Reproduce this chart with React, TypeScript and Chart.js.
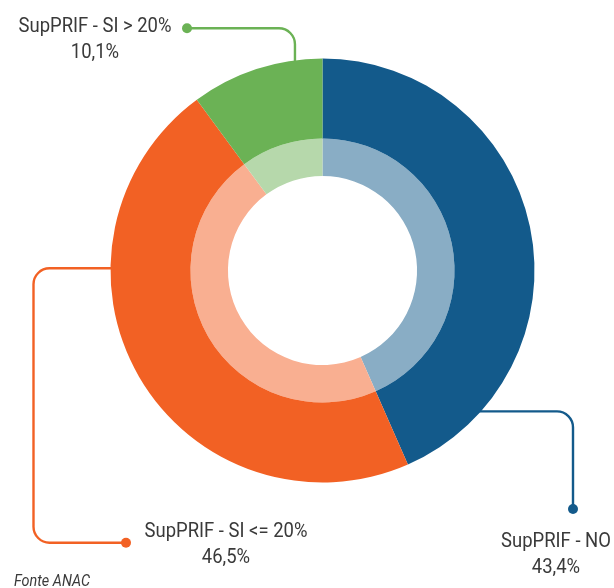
import React, { useEffect, useRef } from "react";
import { Chart, registerables } from "chart.js";

Chart.register(...registerables);

const categories = ["SupPRIF - NO", "SupPRIF - SI <= 20%", "SupPRIF - SI > 20%"];
const values = [43.4, 46.5, 10.1];
const valueLabels = ["43,4%", "46,5%", "10,1%"];
const solidColors = ["#135a8b", "#f26124", "#6bb255"];
const lightColors = ["#89adc5", "#f9af91", "#b6d8ab"];
const sourceText = "Fonte ANAC";

const FONT = 'Roboto, "Noto Sans", sans-serif';
const TEXT_COLOR = "#3a3a3a";
const CONDENSE = 0.9;

// Leader-line layout (annotation geometry, not data)
type Leader = {
  angle: number; // attach angle on outer edge, degrees clockwise from 12 o'clock
  path: Array<["h" | "v", number]>;
  textX: number;
  textY: number;
};
const leaders: Leader[] = [
  { angle: 131.9, path: [["h", 573], ["v", 509]], textX: 556, textY: 547 },
  { angle: 270.6, path: [["h", 33.5], ["v", 542.7], ["h", 126]], textX: 226, textY: 537 },
  { angle: 352.5, path: [["v", 28.3], ["h", 187]], textX: 95, textY: 32 },
];

function condensedText(ctx: CanvasRenderingContext2D, text: string, x: number, y: number, align: CanvasTextAlign) {
  ctx.save();
  ctx.translate(x, y);
  ctx.scale(CONDENSE, 1);
  ctx.textAlign = align;
  ctx.fillText(text, 0, 0);
  ctx.restore();
}

const leaderPlugin = {
  id: "leaderLabels",
  afterDraw(chart: any) {
    const meta = chart.getDatasetMeta(0);
    if (!meta || !meta.data.length) return;
    const arc0 = meta.data[0];
    const cx = arc0.x;
    const cy = arc0.y;
    const R = arc0.outerRadius;
    const ctx = chart.ctx as CanvasRenderingContext2D;
    ctx.save();
    leaders.forEach((l, i) => {
      const a = (l.angle * Math.PI) / 180;
      const sx = cx + (R - 1) * Math.sin(a);
      const sy = cy - (R - 1) * Math.cos(a);
      const pts: Array<[number, number]> = [[sx, sy]];
      let px = sx, py = sy;
      l.path.forEach(([dir, v]) => {
        if (dir === "h") px = v; else py = v;
        pts.push([px, py]);
      });
      ctx.strokeStyle = solidColors[i];
      ctx.lineWidth = 2.4;
      ctx.lineJoin = "round";
      ctx.beginPath();
      ctx.moveTo(pts[0][0], pts[0][1]);
      for (let k = 1; k < pts.length - 1; k++) {
        ctx.arcTo(pts[k][0], pts[k][1], pts[k + 1][0], pts[k + 1][1], 16);
      }
      const last = pts[pts.length - 1];
      ctx.lineTo(last[0], last[1]);
      ctx.stroke();
      ctx.fillStyle = solidColors[i];
      ctx.beginPath();
      ctx.arc(last[0], last[1], 5, 0, Math.PI * 2);
      ctx.fill();

      ctx.fillStyle = TEXT_COLOR;
      ctx.font = `20.5px ${FONT}`;
      ctx.textBaseline = "alphabetic";
      condensedText(ctx, categories[i], l.textX, l.textY, "center");
      condensedText(ctx, valueLabels[i], l.textX, l.textY + 25.5, "center");
    });
    ctx.fillStyle = TEXT_COLOR;
    ctx.font = `italic 16px ${FONT}`;
    ctx.textBaseline = "alphabetic";
    condensedText(ctx, sourceText, 14, 586, "left");
    ctx.restore();
  },
};

export default function App() {
  const ref = useRef<HTMLCanvasElement | null>(null);
  useEffect(() => {
    if (!ref.current) return;
    const chart = new Chart(ref.current, {
      type: "doughnut",
      data: {
        labels: categories,
        datasets: [
          {
            data: values,
            backgroundColor: solidColors,
            borderWidth: 0,
            weight: 80,
          },
          {
            data: values,
            backgroundColor: lightColors,
            borderWidth: 0,
            weight: 37.5,
          },
        ],
      },
      options: {
        responsive: false,
        animation: false,
        radius: 212,
        cutout: "44.6%",
        layout: { padding: { left: 31, right: 0, top: 0, bottom: 47 } },
        plugins: {
          legend: { display: false },
          tooltip: { enabled: false },
        },
        events: [],
      } as any,
      plugins: [leaderPlugin],
    });
    return () => chart.destroy();
  }, []);
  return (
    <div style={{ position: "absolute", left: 0, top: 0, width: 614, height: 588, background: "#fff" }}>
      <canvas ref={ref} width={614} height={588} style={{ display: "block" }} />
    </div>
  );
}
